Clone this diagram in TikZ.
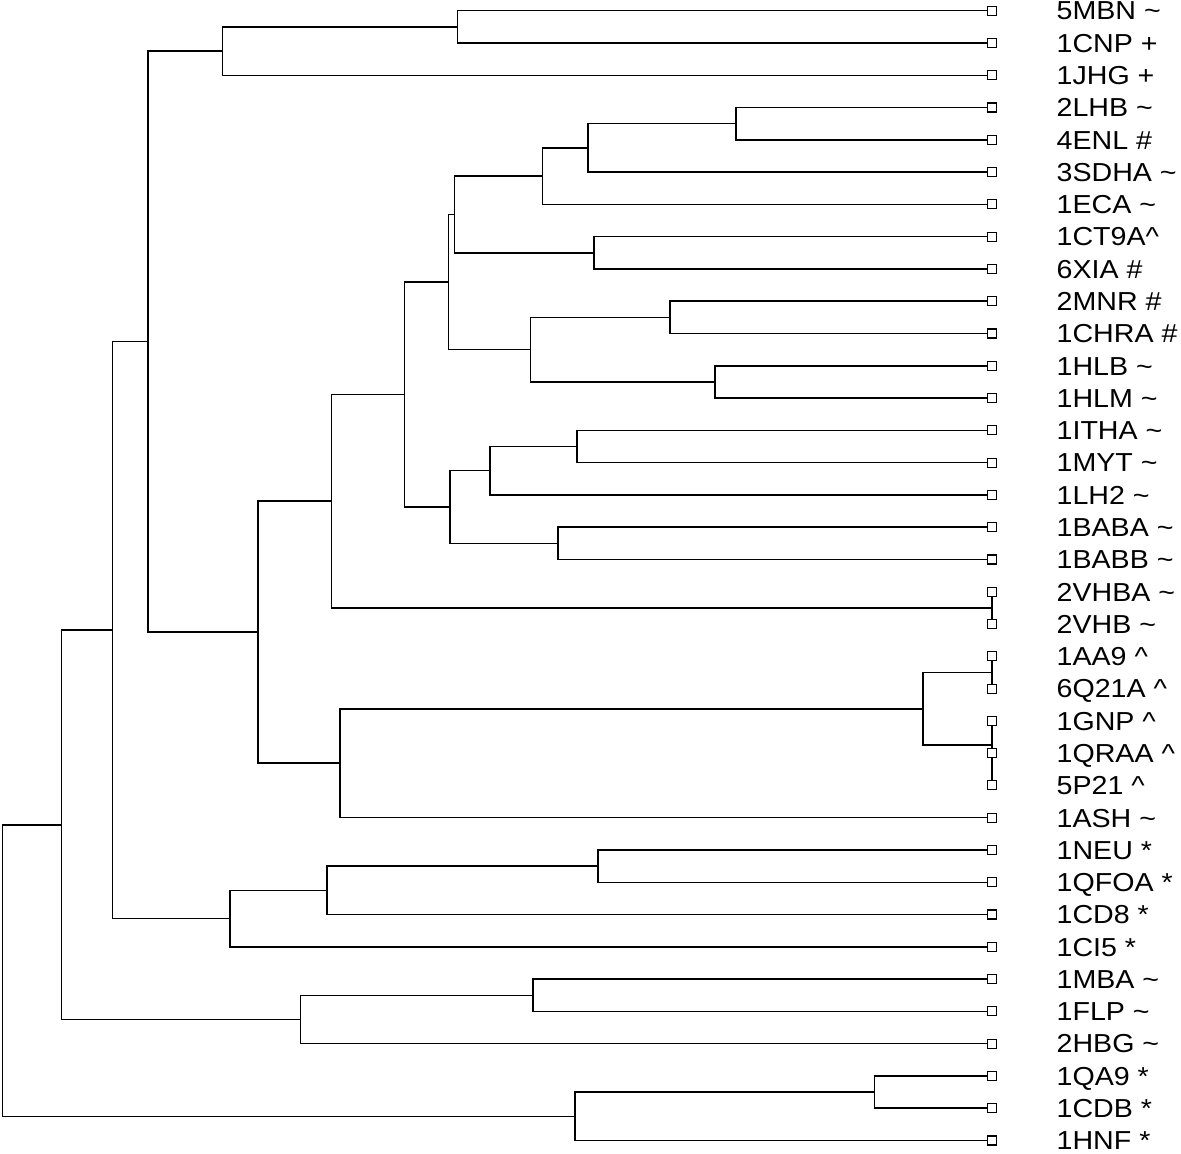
\documentclass[tikz,border=0pt]{standalone}
\usepackage{fontspec}
\usepackage{graphicx}
\usetikzlibrary{positioning, backgrounds}
\newfontfamily\leaffont{Liberation Sans}
\newcommand{\widen}[1]{\scalebox{1.1}[1]{#1}}

\begin{document}
\begin{tikzpicture}[x=0.5pt, y=-0.5pt,
  leafbox/.style={rectangle, draw, fill=white, minimum size=4.5pt, inner sep=0pt, line width=0.55pt},
  leaftext/.style={inner sep=0pt, text height=9.3pt, text depth=0pt, font=\leaffont\fontsize{13pt}{15pt}\selectfont},
  branch/.style={line width=0.75pt}]

\useasboundingbox (0,0) rectangle (1181,1154);

% leaves and their labels
\foreach \nm/\lab [count=\i from 0] in {
  5MBN/5MBN \textasciitilde, 1CNP/1CNP +, 1JHG/1JHG +, 2LHB/2LHB \textasciitilde,
  4ENL/4ENL \#, 3SDHA/3SDHA \textasciitilde, 1ECA/1ECA \textasciitilde, 1CT9A/1CT9A\textasciicircum,
  6XIA/6XIA \#, 2MNR/2MNR \#, 1CHRA/1CHRA \#, 1HLB/1HLB \textasciitilde,
  1HLM/1HLM \textasciitilde, 1ITHA/1ITHA \textasciitilde, 1MYT/1MYT \textasciitilde, 1LH2/1LH2 \textasciitilde,
  1BABA/1BABA \textasciitilde, 1BABB/1BABB \textasciitilde, 2VHBA/2VHBA \textasciitilde, 2VHB/2VHB \textasciitilde,
  1AA9/1AA9 \textasciicircum, 6Q21A/6Q21A \textasciicircum, 1GNP/1GNP \textasciicircum, 1QRAA/1QRAA \textasciicircum,
  5P21/5P21 \textasciicircum, 1ASH/1ASH \textasciitilde, 1NEU/1NEU *, 1QFOA/1QFOA *,
  1CD8/1CD8 *, 1CI5/1CI5 *, 1MBA/1MBA \textasciitilde, 1FLP/1FLP \textasciitilde,
  2HBG/2HBG \textasciitilde, 1QA9/1QA9 *, 1CDB/1CDB *, 1HNF/1HNF *}
{
  \node[leafbox] (\nm) at (992, {10.7+32.28*\i}) {};
  \node[leaftext, right=29.6pt of \nm] (\nm-lab) {\widen{\lab}};
}

\begin{scope}[on background layer]
% top cluster
\coordinate (m1) at (457.5, 26.84);   \draw[branch] (5MBN) -| (m1) |- (1CNP);
\coordinate (m2) at (222.5, 51.05);   \draw[branch] (m1) -| (m2) |- (1JHG);

% globin-like cluster
\coordinate (a1) at (736, 123.68);    \draw[branch] (2LHB) -| (a1) |- (4ENL);
\coordinate (a2) at (588, 147.89);    \draw[branch] (a1) -| (a2) |- (3SDHA);
\coordinate (a3) at (542.5, 176.14);  \draw[branch] (a2) -| (a3) |- (1ECA);
\coordinate (a4) at (594, 252.80);    \draw[branch] (1CT9A) -| (a4) |- (6XIA);
\coordinate (a5) at (454.5, 214.47);  \draw[branch] (a3) -| (a5) |- (a4);
\coordinate (a6) at (670, 317.36);    \draw[branch] (2MNR) -| (a6) |- (1CHRA);
\coordinate (a7) at (715, 381.92);    \draw[branch] (1HLB) -| (a7) |- (1HLM);
\coordinate (a8) at (530.5, 349.64);  \draw[branch] (a6) -| (a8) |- (a7);
\coordinate (a9) at (448.5, 282.06);  \draw[branch] (a5) -| (a9) |- (a8);

\coordinate (b1) at (577, 446.48);    \draw[branch] (1ITHA) -| (b1) |- (1MYT);
\coordinate (b2) at (490, 470.69);    \draw[branch] (b1) -| (b2) |- (1LH2);
\coordinate (b3) at (558, 543.32);    \draw[branch] (1BABA) -| (b3) |- (1BABB);
\coordinate (b4) at (450, 507.00);    \draw[branch] (b2) -| (b4) |- (b3);

\coordinate (c1) at (404.5, 394.53);  \draw[branch] (a9) -| (c1) |- (b4);
\coordinate (v1) at (992, 607.88);    \draw[branch] (2VHBA.center) -| (v1) |- (2VHB.center);
\coordinate (c2) at (331.5, 501.21);  \draw[branch] (c1) -| (c2) |- (v1);

% ras cluster
\coordinate (r1) at (992, 672.44);    \draw[branch] (1AA9.center) -| (r1) |- (6Q21A.center);
\coordinate (r2) at (992, 769.28);    \draw[branch] (1QRAA.center) -| (r2) |- (5P21.center);
\coordinate (r3) at (992, 745.07);    \draw[branch] (1GNP.center) -| (r3) |- (r2);
\coordinate (r4) at (923, 708.76);    \draw[branch] (r1) -| (r4) |- (r3);
\coordinate (r5) at (340, 763.23);    \draw[branch] (r4) -| (r5) |- (1ASH);

\coordinate (c3) at (258, 632.22);    \draw[branch] (c2) -| (c3) |- (r5);
\coordinate (c4) at (148, 341.64);    \draw[branch] (m2) -| (c4) |- (c3);

% lower clusters
\coordinate (e1) at (598, 866.12);    \draw[branch] (1NEU) -| (e1) |- (1QFOA);
\coordinate (e2) at (327, 890.33);    \draw[branch] (e1) -| (e2) |- (1CD8);
\coordinate (e3) at (230, 918.58);    \draw[branch] (e2) -| (e3) |- (1CI5);
\coordinate (c5) at (112.5, 630.11);  \draw[branch] (c4) -| (c5) |- (e3);

\coordinate (g1) at (533, 995.24);    \draw[branch] (1MBA) -| (g1) |- (1FLP);
\coordinate (g2) at (300.5, 1019.45); \draw[branch] (g1) -| (g2) |- (2HBG);
\coordinate (c6) at (61.5, 824.78);   \draw[branch] (c5) -| (c6) |- (g2);

\coordinate (h1) at (874.5, 1092.08); \draw[branch] (1QA9) -| (h1) |- (1CDB);
\coordinate (h2) at (575, 1116.29);   \draw[branch] (h1) -| (h2) |- (1HNF);

% root
\coordinate (root) at (2.5, 970.5);   \draw[branch] (c6) -| (root) |- (h2);
\end{scope}
\end{tikzpicture}
\end{document}
